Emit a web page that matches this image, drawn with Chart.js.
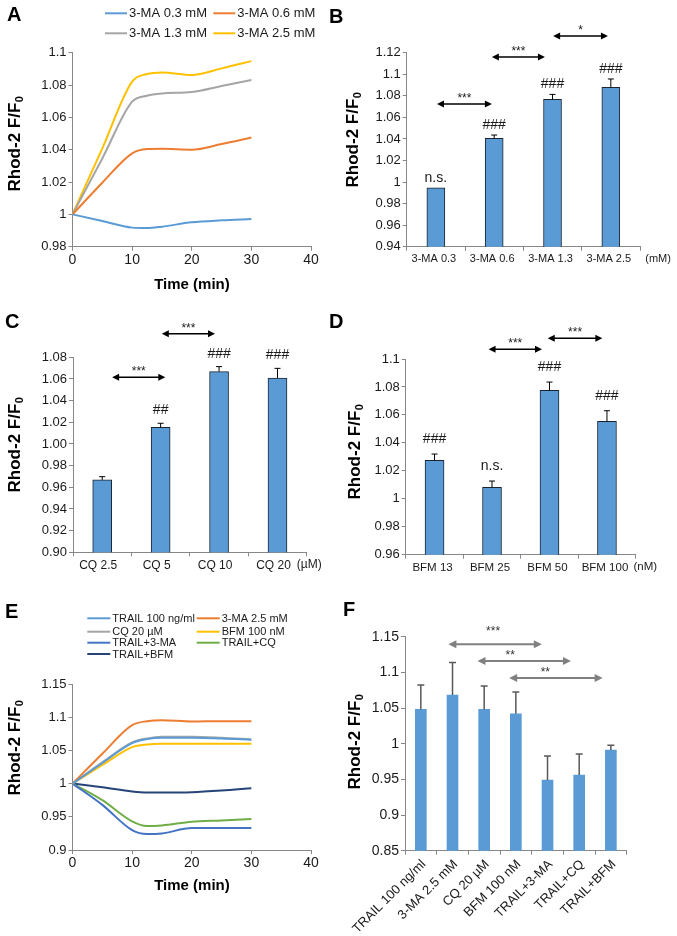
<!DOCTYPE html>
<html lang="en">
<head>
<meta charset="UTF-8">
<title>Rhod-2 F/F0</title>
<style>
  html, body { margin: 0; padding: 0; background: #fff; }
  #fig { position: relative; width: 677px; height: 936px; overflow: hidden; }
  #fig canvas { position: absolute; }
  .lt { position: absolute; font: bold 20px 'Liberation Sans', Arial, sans-serif; line-height: 20px; color: #000; }
</style>
</head>
<body>
<div id="fig">
  <canvas id="cA"></canvas>
  <canvas id="cB"></canvas>
  <canvas id="cC"></canvas>
  <canvas id="cD"></canvas>
  <canvas id="cE"></canvas>
  <canvas id="cF"></canvas>
  <div class="lt" style="left:7px;top:4px">A</div>
  <div class="lt" style="left:329px;top:6px">B</div>
  <div class="lt" style="left:5px;top:311px">C</div>
  <div class="lt" style="left:329px;top:311px">D</div>
  <div class="lt" style="left:5px;top:601px">E</div>
  <div class="lt" style="left:343px;top:599px">F</div>
</div>

<script src="https://cdn.jsdelivr.net/npm/chart.js@4.4.0/dist/chart.umd.min.js"></script>
<script>
  //data
  // A: time course with 3-MA
  const timeA = [0, 5, 10, 12.5, 15, 20, 25, 30];
  const ma03 = [1.0, 0.9959, 0.9918, 0.9915, 0.9924, 0.9951, 0.9963, 0.9971];
  const ma06 = [1.0, 1.0196, 1.0377, 1.0404, 1.0406, 1.0400, 1.0435, 1.0476];
  const ma13 = [1.0, 1.0346, 1.0697, 1.0734, 1.0748, 1.0757, 1.0794, 1.0831];
  const ma25 = [1.0, 1.0408, 1.0821, 1.0868, 1.0878, 1.0862, 1.0903, 1.0948];
  const namesA = ['3-MA 0.3 mM', '3-MA 0.6 mM', '3-MA 1.3 mM', '3-MA 2.5 mM'];

  // B: 3-MA doses
  const catsB = ['3-MA 0.3', '3-MA 0.6', '3-MA 1.3', '3-MA 2.5'];
  const meanB = [0.9947, 1.0405, 1.0767, 1.0878];
  const errB = [0, 0.0031, 0.0046, 0.0078];
  const sigB = ['n.s.', '###', '###', '###'];
  const compB = [[0.02, 0.96, 1.0724, '***'], [0.96, 1.87, 1.116, '***'], [2.01, 2.95, 1.1355, '*']];

  // C: CQ doses
  const catsC = ['CQ 2.5', 'CQ 5', 'CQ 10', 'CQ 20'];
  const meanC = [0.9668, 1.0154, 1.0668, 1.0609];
  const errC = [0.003, 0.0037, 0.0046, 0.0089];
  const sigC = ['', '##', '###', '###'];
  const compC = [[0.17, 1.08, 1.0615, '***'], [1.02, 1.93, 1.1018, '***']];

  // D: BFM doses
  const catsD = ['BFM 13', 'BFM 25', 'BFM 50', 'BFM 100'];
  const meanD = [1.0275, 1.0082, 1.0776, 1.0554];
  const errD = [0.0045, 0.0045, 0.0059, 0.0076];
  const sigD = ['###', 'n.s.', '###', '###'];
  const compD = [[0.94, 1.87, 1.1069, '***'], [1.97, 2.92, 1.1148, '***']];

  // E: time course, TRAIL and combinations
  const timeE = [0, 5, 10, 12.5, 15, 20, 25, 30];
  const trail = [1.0, 1.031, 1.061, 1.067, 1.069, 1.069, 1.068, 1.066];
  const ma25E = [1.0, 1.045, 1.088, 1.094, 1.0955, 1.0935, 1.094, 1.094];
  const cq20 = [1.0, 1.032, 1.062, 1.068, 1.0705, 1.0705, 1.069, 1.0665];
  const bfm100 = [1.0, 1.028, 1.055, 1.059, 1.060, 1.060, 1.060, 1.060];
  const trailMA = [1.0, 0.968, 0.930, 0.924, 0.925, 0.933, 0.933, 0.933];
  const trailCQ = [1.0, 0.975, 0.943, 0.936, 0.937, 0.9425, 0.9445, 0.9468];
  const trailBFM = [1.0, 0.9945, 0.988, 0.9865, 0.9865, 0.987, 0.9895, 0.993];
  const namesE = ['TRAIL 100 ng/ml', '3-MA 2.5 mM', 'CQ 20 µM', 'BFM 100 nM', 'TRAIL+3-MA', 'TRAIL+CQ', 'TRAIL+BFM'];

  // F: mean values
  const catsF = ['TRAIL 100 ng/ml', '3-MA 2.5 mM', 'CQ 20 µM', 'BFM 100 nM', 'TRAIL+3-MA', 'TRAIL+CQ', 'TRAIL+BFM'];
  const meanF = [1.0481, 1.0682, 1.0481, 1.042, 0.9491, 0.9561, 0.9911];
  const errF = [0.0341, 0.0458, 0.0327, 0.0304, 0.0336, 0.0294, 0.0066];
  const compF = [[0.87, 3.82, 1.1393, '***', 2.28, 1.1618], [1.79, 4.74, 1.1159, '**', 2.82, 1.1281], [2.79, 5.74, 1.0921, '**', 3.93, 1.1043]];

  //style
  const FONT = "'Liberation Sans', Arial, sans-serif";
  const TXT = '#1a1a1a';
  const AX = '#878787';
  const BAR = '#5b9bd5';
  const EDGE = '#1b2430';
  const C_BLUE = '#5b9bd5', C_ORANGE = '#ed7d31', C_GRAY = '#a5a5a5', C_YELLOW = '#ffc000';
  const C_MBLUE = '#4472c4', C_GREEN = '#70ad47', C_DBLUE = '#264478';

  const fmtG = v => String(Number(v.toFixed(2)));
  const fmt2 = v => v.toFixed(2);

  //decor plugin: error bars, significance marks, arrows, titles, legends
  const DECOR = {};

  function arrow(ctx, x1, x2, y, color, lw, hl, hw) {
    ctx.save();
    ctx.strokeStyle = color;
    ctx.fillStyle = color;
    ctx.lineWidth = lw;
    ctx.beginPath();
    ctx.moveTo(x1 + hl - 1, y);
    ctx.lineTo(x2 - hl + 1, y);
    ctx.stroke();
    ctx.beginPath();
    ctx.moveTo(x1, y); ctx.lineTo(x1 + hl, y - hw); ctx.lineTo(x1 + hl, y + hw);
    ctx.closePath(); ctx.fill();
    ctx.beginPath();
    ctx.moveTo(x2, y); ctx.lineTo(x2 - hl, y - hw); ctx.lineTo(x2 - hl, y + hw);
    ctx.closePath(); ctx.fill();
    ctx.restore();
  }

  function yTitle(ctx, cx, cy) {
    ctx.save();
    ctx.translate(cx, cy);
    ctx.rotate(-Math.PI / 2);
    ctx.fillStyle = '#000';
    ctx.textAlign = 'left';
    ctx.textBaseline = 'middle';
    const main = 'Rhod-2 F/F';
    ctx.font = 'bold 17px ' + FONT;
    const w1 = ctx.measureText(main).width;
    ctx.font = 'bold 11px ' + FONT;
    const w2 = ctx.measureText('0').width;
    const sx = -(w1 + w2) / 2;
    ctx.font = 'bold 17px ' + FONT;
    ctx.fillText(main, sx, 0);
    ctx.font = 'bold 11px ' + FONT;
    ctx.fillText('0', sx + w1 + 0.5, 5);
    ctx.restore();
  }

  const decorPlugin = {
    id: 'decor',
    afterDatasetsDraw(chart) {
      const o = DECOR[chart.canvas.id];
      if (!o) return;
      const ctx = chart.ctx;
      const xs = chart.scales.x, ys = chart.scales.y;
      ctx.save();
      if (o.err) {
        const meta = chart.getDatasetMeta(0);
        const vals = chart.data.datasets[0].data;
        o.err.forEach((e, i) => {
          const bx = meta.data[i].x;
          const yTop = ys.getPixelForValue(vals[i] + e);
          if (e > 0) {
            ctx.strokeStyle = o.errColor;
            ctx.lineWidth = o.errWidth;
            ctx.beginPath();
            ctx.moveTo(bx, ys.getPixelForValue(vals[i]));
            ctx.lineTo(bx, yTop);
            ctx.moveTo(bx - o.capW / 2, yTop);
            ctx.lineTo(bx + o.capW / 2, yTop);
            ctx.stroke();
          }
          if (o.sig && o.sig[i]) {
            ctx.fillStyle = TXT;
            ctx.font = o.sigFont;
            ctx.textAlign = 'center';
            ctx.textBaseline = 'alphabetic';
            ctx.fillText(o.sig[i], bx, yTop - o.sigGap);
          }
        });
      }
      if (o.comp) {
        o.comp.forEach(c => {
          const x1 = xs.getPixelForValue(c[0]);
          const x2 = xs.getPixelForValue(c[1]);
          const yy = ys.getPixelForValue(c[2]);
          arrow(ctx, x1, x2, yy, o.arrowColor, o.arrowWidth, o.headL, o.headW);
          const tx = c.length > 4 ? xs.getPixelForValue(c[4]) : (x1 + x2) / 2;
          const ty = c.length > 5 ? ys.getPixelForValue(c[5]) : yy - o.starGap;
          ctx.fillStyle = o.starColor;
          ctx.font = o.starSize + 'px ' + FONT;
          ctx.textAlign = 'center';
          ctx.textBaseline = 'alphabetic';
          ctx.fillText(c[3], tx, ty + 0.58 * o.starSize);
        });
      }
      ctx.restore();
    },
    afterDraw(chart) {
      const o = DECOR[chart.canvas.id];
      if (!o) return;
      const ctx = chart.ctx;
      ctx.save();
      yTitle(ctx, o.yTitle[0] - o.ox, o.yTitle[1] - o.oy);
      if (o.xTitle) {
        ctx.fillStyle = '#000';
        ctx.font = 'bold 15px ' + FONT;
        ctx.textAlign = 'center';
        ctx.textBaseline = 'middle';
        ctx.fillText(o.xTitle[0], o.xTitle[1] - o.ox, o.xTitle[2] - o.oy);
      }
      if (o.legend) {
        chart.data.datasets.forEach((ds, i) => {
          const p = o.legend.pos[i];
          const lx = p[0] - o.ox, ly = p[1] - o.oy;
          ctx.strokeStyle = ds.borderColor;
          ctx.lineWidth = 2;
          ctx.beginPath();
          ctx.moveTo(lx, ly);
          ctx.lineTo(lx + o.legend.len, ly);
          ctx.stroke();
          ctx.fillStyle = TXT;
          ctx.font = o.legend.size + 'px ' + FONT;
          ctx.textAlign = 'left';
          ctx.textBaseline = 'middle';
          ctx.fillText(ds.label, lx + o.legend.len + 2, ly + 0.5);
        });
      }
      if (o.unit) {
        const xs = chart.scales.x;
        ctx.fillStyle = TXT;
        ctx.font = o.unit[2] + 'px ' + FONT;
        ctx.textAlign = 'left';
        ctx.textBaseline = 'middle';
        ctx.fillText(o.unit[0], xs.getPixelForValue(o.unit[1]), chart.chartArea.bottom + 12);
      }
      ctx.restore();
    }
  };
  Chart.register(decorPlugin);

  //axis helpers
  function yAxis(min, max, step, fmt, size) {
    return {
      type: 'linear',
      min: min,
      max: max,
      ticks: { stepSize: step, callback: fmt, color: TXT, font: { family: FONT, size: size }, padding: 2 },
      grid: { display: true, drawOnChartArea: false, drawTicks: true, tickLength: 4, color: AX },
      border: { display: true, color: AX, width: 1 }
    };
  }
  function xTime(size) {
    return {
      type: 'linear',
      min: 0,
      max: 40,
      ticks: { stepSize: 10, color: TXT, font: { family: FONT, size: size }, padding: 1 },
      grid: { display: true, drawOnChartArea: false, drawTicks: true, tickLength: 4, color: AX },
      border: { display: true, color: AX, width: 1 }
    };
  }
  function xCat(size, rot, shift) {
    return {
      type: 'category',
      offset: true,
      ticks: { color: TXT, font: { family: FONT, size: size }, padding: 2, autoSkip: false, minRotation: rot, maxRotation: rot, labelOffset: shift },
      grid: { display: true, offset: true, drawOnChartArea: false, drawTicks: true, tickLength: 4, color: AX },
      border: { display: true, color: AX, width: 1 }
    };
  }

  //panel: box = canvas [left, top, w, h], plot = plot area [l, t, r, b] in page px
  function panel(id, box, plot, config, decor) {
    const cv = document.getElementById(id);
    cv.style.left = box[0] + 'px';
    cv.style.top = box[1] + 'px';
    cv.width = box[2];
    cv.height = box[3];
    const yw = plot[0] - box[0];
    const xh = box[1] + box[3] - plot[3];
    config.options.responsive = false;
    config.options.animation = false;
    config.options.layout = { padding: { left: 0, top: plot[1] - box[1], right: box[0] + box[2] - plot[2], bottom: 0 } };
    config.options.plugins = { legend: { display: false }, tooltip: { enabled: false } };
    config.options.scales.x.afterFit = s => { s.height = xh; };
    config.options.scales.y.afterFit = s => { s.width = yw; };
    decor.ox = box[0];
    decor.oy = box[1];
    DECOR[id] = decor;
    return new Chart(cv, config);
  }

  function series(t, v) {
    return t.map((x, i) => ({ x: x, y: v[i] }));
  }
  function lineSet(label, t, v, color) {
    return {
      label: label,
      data: series(t, v),
      borderColor: color,
      backgroundColor: color,
      borderWidth: 2,
      pointRadius: 0,
      fill: false,
      cubicInterpolationMode: 'monotone'
    };
  }
  function barSet(values, thick, border) {
    return {
      data: values,
      backgroundColor: BAR,
      borderColor: EDGE,
      borderWidth: border,
      barThickness: thick
    };
  }

  //A
  panel('cA', [0, 0, 338, 300], [72.5, 52.7, 311, 246.7], {
    type: 'line',
    data: {
      datasets: [
        lineSet(namesA[0], timeA, ma03, C_BLUE),
        lineSet(namesA[1], timeA, ma06, C_ORANGE),
        lineSet(namesA[2], timeA, ma13, C_GRAY),
        lineSet(namesA[3], timeA, ma25, C_YELLOW)
      ]
    },
    options: { scales: { x: xTime(14), y: yAxis(0.98, 1.1, 0.02, fmtG, 13) } }
  }, {
    yTitle: [15, 144],
    xTitle: ['Time (min)', 192, 285],
    legend: { len: 22, size: 13, pos: [[105, 13.3], [213.3, 13.3], [105, 33.3], [213.3, 33.3]] }
  });

  //B
  const barDecor = { errColor: '#000', errWidth: 1, capW: 6, sigFont: '14px ' + FONT, arrowColor: '#000', arrowWidth: 1.5, headL: 7, headW: 3.5, starColor: TXT, starSize: 12, starGap: 9 };
  panel('cB', [338, 0, 339, 300], [406.7, 52.7, 640, 246.7], {
    type: 'bar',
    data: { labels: catsB, datasets: [barSet(meanB, 18, 1)] },
    options: { scales: { x: xCat(11, 0, -2), y: yAxis(0.94, 1.12, 0.02, fmtG, 13) } }
  }, Object.assign({}, barDecor, {
    yTitle: [353, 140], err: errB, sig: sigB, sigGap: 6, comp: compB, unit: ['(mM)', 3.59, 11]
  }));

  //C
  panel('cC', [0, 300, 338, 300], [73, 357.3, 306.7, 552.3], {
    type: 'bar',
    data: { labels: catsC, datasets: [barSet(meanC, 19, 1)] },
    options: { scales: { x: xCat(12, 0, -4), y: yAxis(0.90, 1.08, 0.02, fmt2, 13) } }
  }, Object.assign({}, barDecor, {
    yTitle: [15, 445], err: errC, sig: sigC, sigGap: 9, comp: compC, unit: ['(µM)', 3.33, 12]
  }));

  //D
  panel('cD', [338, 300, 339, 300], [405.8, 359, 635.7, 554.7], {
    type: 'bar',
    data: { labels: catsD, datasets: [barSet(meanD, 19, 1)] },
    options: { scales: { x: xCat(11.5, 0, -2), y: yAxis(0.96, 1.1, 0.02, fmtG, 13) } }
  }, Object.assign({}, barDecor, {
    yTitle: [355, 452], err: errD, sig: sigD, sigGap: 11, comp: compD, unit: ['(nM)', 3.46, 11.5]
  }));

  //E
  panel('cE', [0, 600, 338, 336], [72.5, 684, 311, 850], {
    type: 'line',
    data: {
      datasets: [
        lineSet(namesE[0], timeE, trail, C_BLUE),
        lineSet(namesE[1], timeE, ma25E, C_ORANGE),
        lineSet(namesE[2], timeE, cq20, C_GRAY),
        lineSet(namesE[3], timeE, bfm100, C_YELLOW),
        lineSet(namesE[4], timeE, trailMA, C_MBLUE),
        lineSet(namesE[5], timeE, trailCQ, C_GREEN),
        lineSet(namesE[6], timeE, trailBFM, C_DBLUE)
      ]
    },
    options: { scales: { x: xTime(14), y: yAxis(0.9, 1.15, 0.05, fmtG, 13) } }
  }, {
    yTitle: [15, 748],
    xTitle: ['Time (min)', 192, 885.7],
    legend: { len: 23, size: 11, pos: [[87.3, 618.3], [196.7, 618.3], [87.3, 631.7], [196.7, 631.7], [87.3, 642.7], [196.7, 642.7], [87.3, 654]] }
  });

  //F
  panel('cF', [338, 600, 339, 336], [405, 636.7, 626.7, 850.7], {
    type: 'bar',
    data: { labels: catsF, datasets: [barSet(meanF, 11, 0)] },
    options: { scales: { x: xCat(13, 45, 3), y: yAxis(0.85, 1.15, 0.05, fmtG, 14) } }
  }, {
    yTitle: [355, 742], err: errF, errColor: '#595959', errWidth: 1.5, capW: 7,
    comp: compF, arrowColor: '#808080', arrowWidth: 2, headL: 8, headW: 4, starColor: '#333', starSize: 12
  });
</script>
</body>
</html>
